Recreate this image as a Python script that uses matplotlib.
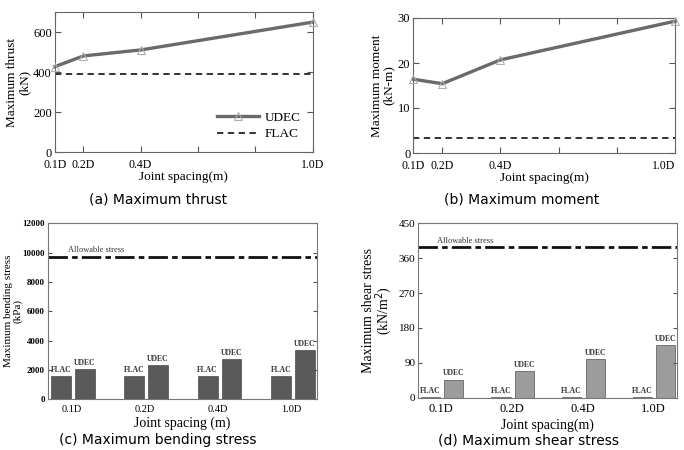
import numpy as np
import matplotlib
matplotlib.use('Agg')
import matplotlib.pyplot as plt

# data
spacing = [0.1, 0.2, 0.4, 1.0]
spacing_labels = ['0.1D', '0.2D', '0.4D', '1.0D']

thrust_udec = [427, 481, 511, 650]
thrust_flac = 392

moment_udec = [16.4, 15.4, 20.7, 29.3]
moment_flac = 3.3

bending_flac = [1550, 1550, 1550, 1550]
bending_udec = [2030, 2300, 2760, 3370]
bending_allow = 9700

shear_flac = [2, 2, 2, 2]
shear_udec = [47, 70, 99, 135]
shear_allow = 388

serif = 'Liberation Serif'
sans = 'DejaVu Sans'
plt.rcParams['font.family'] = serif

fig = plt.figure(figsize=(6.84, 4.5), dpi=100)

ax_a = fig.add_axes([0.080, 0.662, 0.377, 0.311])
ax_b = fig.add_axes([0.604, 0.660, 0.383, 0.300])
ax_c = fig.add_axes([0.070, 0.113, 0.393, 0.391])
ax_d = fig.add_axes([0.611, 0.116, 0.379, 0.388])

line_ticks = [0.1, 0.2, 0.4, 0.6, 0.8, 1.0]
line_ticklabels = ['0.1D', '0.2D', '0.4D', '', '', '1.0D']


def line_panel(ax, udec, flac, ylim, yticks, ylabel, legend):
    ax.plot(spacing, udec, color='#6a6a6a', lw=2.4, marker='^', ms=6,
            mfc='none', mec='#b0b0b0', mew=0.8, label='UDEC', clip_on=False, zorder=3)
    ax.axhline(flac, color='#222222', lw=1.3, ls=(0, (3.5, 2.5)), label='FLAC')
    ax.set_xlim(0.1, 1.0)
    ax.set_ylim(*ylim)
    ax.set_yticks(yticks)
    ax.set_xticks(line_ticks)
    ax.set_xticklabels(line_ticklabels)
    ax.tick_params(direction='in', top=True, right=True, labelsize=9, length=4,
                   color='#555555', pad=2)
    ax.tick_params(axis='x', labelsize=8.5, pad=5)
    for s in ax.spines.values():
        s.set_color('#666666')
    ax.set_ylabel(ylabel, fontsize=9.5, labelpad=2, linespacing=1.0)
    ax.set_xlabel('Joint spacing(m)', fontsize=9.5, labelpad=0)
    if legend:
        ax.legend(loc='lower right', frameon=False, fontsize=9.5, handlelength=3.2,
                  handletextpad=0.4, labelspacing=0.3, borderaxespad=0.5)


line_panel(ax_a, thrust_udec, thrust_flac, (0, 700), [0, 200, 400, 600],
           'Maximum thrust\n(kN)', True)
line_panel(ax_b, moment_udec, moment_flac, (0, 30), [0, 10, 20, 30],
           'Maximum moment\n(kN-m)', False)
ax_b.get_xticklabels()[-1].set_horizontalalignment('right')


def bar_panel(ax, flac, udec, allow, ylim, yticks, ylabel, xlabel, color,
              ticksize, labelsize, barfont, xlim, off_f, off_u):
    x = np.arange(len(spacing_labels))
    w = 0.27
    ax.bar(x + off_f, flac, w, color=color, edgecolor='#333333', lw=0.4)
    ax.bar(x + off_u, udec, w, color=color, edgecolor='#333333', lw=0.4)
    for xi, f, u in zip(x, flac, udec):
        ax.text(xi + off_f, f + ylim[1] * 0.012, 'FLAC', ha='center', va='bottom',
                fontsize=barfont, fontweight='bold', color='#333333')
        ax.text(xi + off_u, u + ylim[1] * 0.012, 'UDEC', ha='center', va='bottom',
                fontsize=barfont, fontweight='bold', color='#333333')
    ax.axhline(allow, color='#111111', lw=2.0, ls=(0, (7, 1.5, 2, 1.5)))
    ax.text(xlim[0] + 0.27, allow + ylim[1] * 0.015, 'Allowable stress',
            fontsize=barfont + 0.5, ha='left', va='bottom', color='#333333')
    ax.set_xlim(*xlim)
    ax.set_ylim(*ylim)
    ax.set_yticks(yticks)
    ax.set_xticks(x)
    ax.set_xticklabels(spacing_labels)
    ax.tick_params(axis='y', direction='in', right=True, labelsize=ticksize,
                   length=3, color='#555555', pad=2)
    ax.tick_params(axis='x', direction='in', length=0, labelsize=ticksize + 1, pad=4)
    for s in ax.spines.values():
        s.set_color('#777777')
    ax.set_ylabel(ylabel, fontsize=labelsize, labelpad=3, linespacing=0.9)
    ax.set_xlabel(xlabel, fontsize=labelsize, labelpad=2)


bar_panel(ax_c, bending_flac, bending_udec, bending_allow, (0, 12000),
          [0, 2000, 4000, 6000, 8000, 10000, 12000],
          'Maximum bending stress\n(kPa)', 'Joint spacing (m)', '#5a5a5a',
          6.5, 8, 5.5, (-0.32, 3.34), -0.145, 0.18)
for t in ax_c.get_yticklabels():
    t.set_fontweight('bold')
ax_c.xaxis.label.set_fontsize(10)
ax_c.yaxis.set_label_coords(-0.095, 0.5)

bar_panel(ax_d, shear_flac, shear_udec, shear_allow, (0, 450),
          [0, 90, 180, 270, 360, 450],
          'Maximum shear stress\n(kN/m$^2$)', 'Joint spacing(m)', '#9c9c9c',
          8, 10, 5.5, (-0.33, 3.335), -0.156, 0.175)

fig.text(0.231, 0.557, '(a) Maximum thrust', ha='center', va='center',
         fontsize=10, family=sans)
fig.text(0.763, 0.557, '(b) Maximum moment', ha='center', va='center',
         fontsize=10, family=sans)
fig.text(0.231, 0.022, '(c) Maximum bending stress', ha='center', va='center',
         fontsize=10, family=sans)
fig.text(0.772, 0.022, '(d) Maximum shear stress', ha='center', va='center',
         fontsize=10, family=sans)

fig.savefig('out.png', dpi=100)
